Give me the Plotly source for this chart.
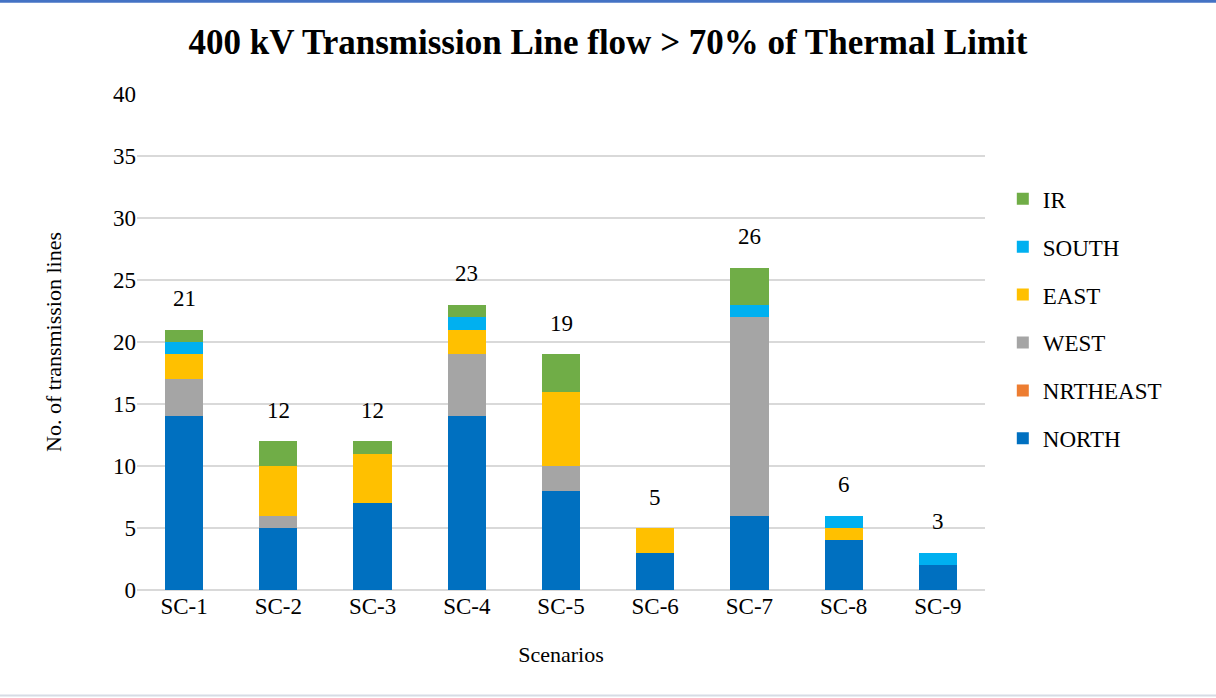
import plotly.graph_objects as go

scenarios = ["SC-1", "SC-2", "SC-3", "SC-4", "SC-5", "SC-6", "SC-7", "SC-8", "SC-9"]
north = [14, 5, 7, 14, 8, 3, 6, 4, 2]
nrtheast = [0, 0, 0, 0, 0, 0, 0, 0, 0]
west = [3, 1, 0, 5, 2, 0, 16, 0, 0]
east = [2, 4, 4, 2, 6, 2, 0, 1, 0]
south = [1, 0, 0, 1, 0, 0, 1, 1, 1]
ir = [1, 2, 1, 1, 3, 0, 3, 0, 0]
totals = [21, 12, 12, 23, 19, 5, 26, 6, 3]

series = [
    ("NORTH", north, "#0070C0"),
    ("NRTHEAST", nrtheast, "#ED7D31"),
    ("WEST", west, "#A5A5A5"),
    ("EAST", east, "#FFC000"),
    ("SOUTH", south, "#00B0F0"),
    ("IR", ir, "#70AD47"),
]

FONT = "Liberation Serif, Times New Roman, serif"

fig = go.Figure()
for i, (name, vals, color) in enumerate(series):
    fig.add_trace(go.Bar(
        x=scenarios, y=vals, name=name, legendgroup=name,
        legendrank=len(series) - i,
        marker=dict(color=color, line=dict(width=0)),
    ))

for sc, t in zip(scenarios, totals):
    fig.add_annotation(x=sc, y=t, text=str(t), showarrow=False, yshift=31,
                       font=dict(family=FONT, size=23, color="#000000"))

# frame lines of the chart area
fig.add_shape(type="line", xref="paper", yref="paper", x0=-0.17, x1=1.28,
              y0=1.187, y1=1.187, line=dict(color="#4472C4", width=3))
fig.add_shape(type="line", xref="paper", yref="paper", x0=-0.17, x1=1.28,
              y0=-0.2125, y1=-0.2125, line=dict(color="#D6DCE5", width=2))

fig.update_layout(
    width=1216, height=698,
    margin=dict(l=137, r=231, t=94, b=108),
    paper_bgcolor="white", plot_bgcolor="white",
    barmode="stack", bargap=0.595,
    font=dict(family=FONT, size=23, color="#000000"),
    title=dict(text="<b>400 kV Transmission Line flow > 70% of Thermal Limit</b>",
               x=0.5, xanchor="center", y=0.94, yanchor="middle",
               font=dict(family=FONT, size=35, color="#000000")),
    xaxis=dict(title=dict(text="Scenarios", font=dict(size=22), standoff=28),
               showgrid=False, showline=False, ticks="", tickfont=dict(size=23)),
    yaxis=dict(title=dict(text="No. of transmission lines", font=dict(size=22), standoff=45),
               range=[0, 40], dtick=5, showgrid=True, gridcolor="#D9D9D9", gridwidth=1.5,
               zeroline=True, zerolinecolor="#D9D9D9", zerolinewidth=1.5,
               showline=False, ticks="", tickfont=dict(size=23)),
    legend=dict(x=1.021, y=0.832, xanchor="left", yanchor="top",
                traceorder="grouped", tracegroupgap=15,
                font=dict(size=23), itemwidth=30),
)

fig.write_html("out.html", config={"displayModeBar": False},
               post_script="document.body.style.margin='0';")
